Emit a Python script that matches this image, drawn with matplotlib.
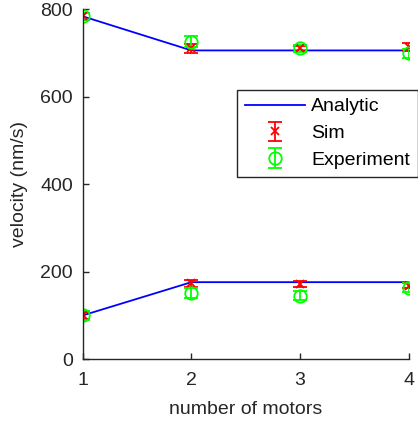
import matplotlib.pyplot as plt
import numpy as np

plt.rcParams['font.family'] = ['Liberation Sans', 'DejaVu Sans']

motors = np.array([1, 2, 3, 4])

# analytic prediction, two branches
analytic_hi = np.array([784, 706, 706, 706])
analytic_lo = np.array([100, 176, 176, 176])

# simulation mean and error
sim_hi = np.array([784, 711, 711, 714])
sim_hi_err = np.array([8, 10, 6, 10])
sim_lo = np.array([100, 173, 172, 168])
sim_lo_err = np.array([8, 7, 6, 6])

# experiment mean and error
exp_hi = np.array([784, 726, 711, 699])
exp_hi_err = np.array([8, 12, 8, 10])
exp_lo = np.array([100, 151, 145, 163])
exp_lo_err = np.array([10, 12, 10, 10])

fs = 14

fig = plt.figure(figsize=(4.18, 4.24), dpi=100)
ax = fig.add_axes([0.198, 0.153, 0.78, 0.825])

ax.plot(motors, analytic_hi, color='#0000ff', lw=1.3, label='Analytic')
ax.plot(motors, analytic_lo, color='#0000ff', lw=1.3)

ax.errorbar(motors, sim_hi, yerr=sim_hi_err, fmt='x', color='#ff0000',
            ms=6, mew=1.3, elinewidth=1.3, capsize=5, capthick=1.3, label='Sim')
ax.errorbar(motors, sim_lo, yerr=sim_lo_err, fmt='x', color='#ff0000',
            ms=6, mew=1.3, elinewidth=1.3, capsize=5, capthick=1.3)

ax.errorbar(motors, exp_hi, yerr=exp_hi_err, fmt='o', color='#00ff00', mfc='none',
            ms=9, mew=1.3, elinewidth=1.3, capsize=5, capthick=1.3, label='Experiment')
ax.errorbar(motors, exp_lo, yerr=exp_lo_err, fmt='o', color='#00ff00', mfc='none',
            ms=9, mew=1.3, elinewidth=1.3, capsize=5, capthick=1.3)

ax.set_xlim(1, 4)
ax.set_ylim(0, 800)
ax.set_xticks([1, 2, 3, 4])
ax.set_yticks([0, 200, 400, 600, 800])

for side in ['top', 'right']:
    ax.spines[side].set_visible(False)
for side in ['left', 'bottom']:
    ax.spines[side].set_color('#262626')
    ax.spines[side].set_linewidth(1.0)
ax.tick_params(direction='in', length=4, width=1.0, colors='#262626',
               labelsize=fs)
ax.tick_params(axis='x', pad=9)
ax.tick_params(axis='y', pad=7)

ax.set_xlabel('number of motors', fontsize=fs, color='#262626', labelpad=9)
ax.set_ylabel('velocity (nm/s)', fontsize=fs, color='#262626', labelpad=9)

leg = ax.legend(loc='upper left', bbox_to_anchor=(237 / 418, 1 - 90 / 424),
                bbox_transform=fig.transFigure, fontsize=fs, frameon=True,
                fancybox=False, edgecolor='#262626', framealpha=1,
                handlelength=3.1, borderpad=0.4, labelspacing=0.47,
                handletextpad=0.3, borderaxespad=0)
leg.get_frame().set_linewidth(1.0)
for t in leg.get_texts():
    t.set_color('#000000')

fig.savefig('out.png', dpi=100)
